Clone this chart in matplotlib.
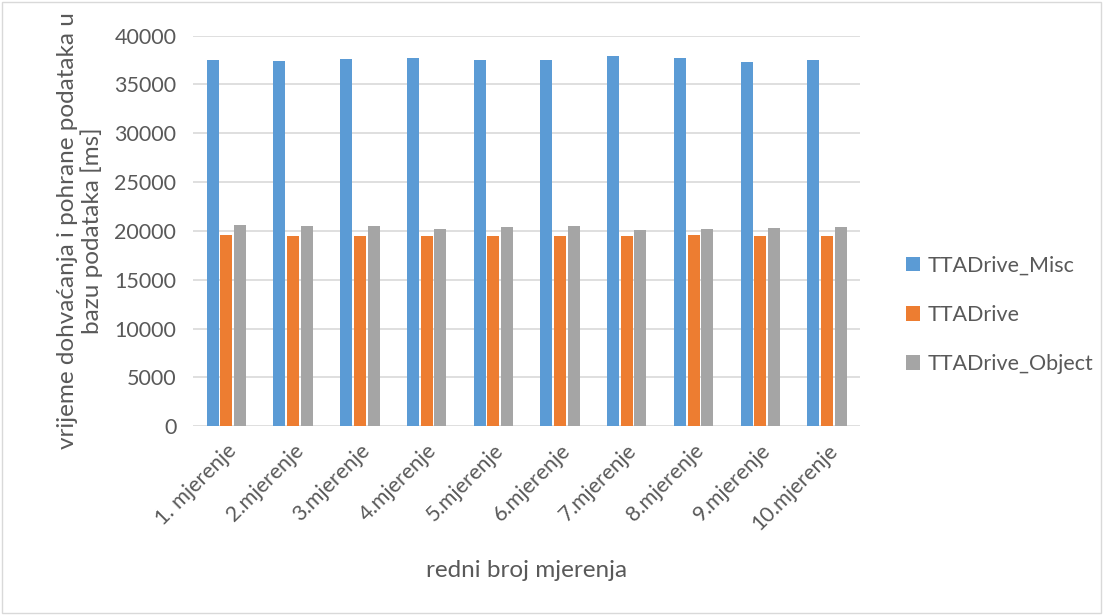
import numpy as np
import matplotlib.pyplot as plt
from matplotlib.patches import Rectangle

plt.rcParams['font.family'] = ['Lato', 'DejaVu Sans']

categories = ['1. mjerenje', '2.mjerenje', '3.mjerenje', '4.mjerenje', '5.mjerenje',
              '6.mjerenje', '7.mjerenje', '8.mjerenje', '9.mjerenje', '10.mjerenje']
misc = [37500, 37440, 37580, 37710, 37470, 37540, 37920, 37680, 37340, 37500]
drive = [19570, 19440, 19440, 19470, 19470, 19440, 19440, 19540, 19470, 19470]
obj = [20570, 20500, 20500, 20220, 20430, 20480, 20120, 20150, 20320, 20430]
series = ['TTADrive_Misc', 'TTADrive', 'TTADrive_Object']
colors = ['#5b9bd5', '#ed7d31', '#a5a5a5']
text_c = '#595959'

fig = plt.figure(figsize=(11.03, 6.15), dpi=100)
ax = fig.add_axes([0.175, 0.307, 0.605, 0.635])

x = np.arange(len(categories))
w = 0.18
for i, (vals, c, name) in enumerate(zip([misc, drive, obj], colors, series)):
    ax.bar(x + (i - 1) * 0.205, vals, width=w, color=c, label=name, zorder=3)

ax.set_xlim(-0.5, len(categories) - 0.5)
ax.set_ylim(0, 40000)
ax.set_yticks(np.arange(0, 40001, 5000))
ax.yaxis.grid(True, color='#d9d9d9', linewidth=1.2, zorder=0)
for s in ax.spines.values():
    s.set_visible(False)
ax.tick_params(length=0, colors=text_c, labelsize=15.5)
ax.tick_params(axis='y', pad=12)
ax.set_xticks(x)
ax.set_xticklabels(categories, rotation=45, ha='right', rotation_mode='anchor')
ax.tick_params(axis='x', pad=10)

ax.set_ylabel('vrijeme dohvaćanja i pohrane podataka u\nbazu podataka [ms]',
              fontsize=17.5, color=text_c, labelpad=8, linespacing=1.15)
ax.set_xlabel('redni broj mjerenja', fontsize=17.5, color=text_c, labelpad=19)

leg = ax.legend(loc='center left', bbox_to_anchor=(1.04, 0.285), frameon=False,
                fontsize=15.5, labelspacing=1.35, handlelength=0.65, handleheight=0.65,
                handletextpad=0.35)
for t in leg.get_texts():
    t.set_color(text_c)

fig.patches.append(Rectangle((0.002, 0.003), 0.996, 0.994, transform=fig.transFigure,
                             fill=False, edgecolor='#d9d9d9', linewidth=1))

fig.savefig('out.png', dpi=100, facecolor='white')
